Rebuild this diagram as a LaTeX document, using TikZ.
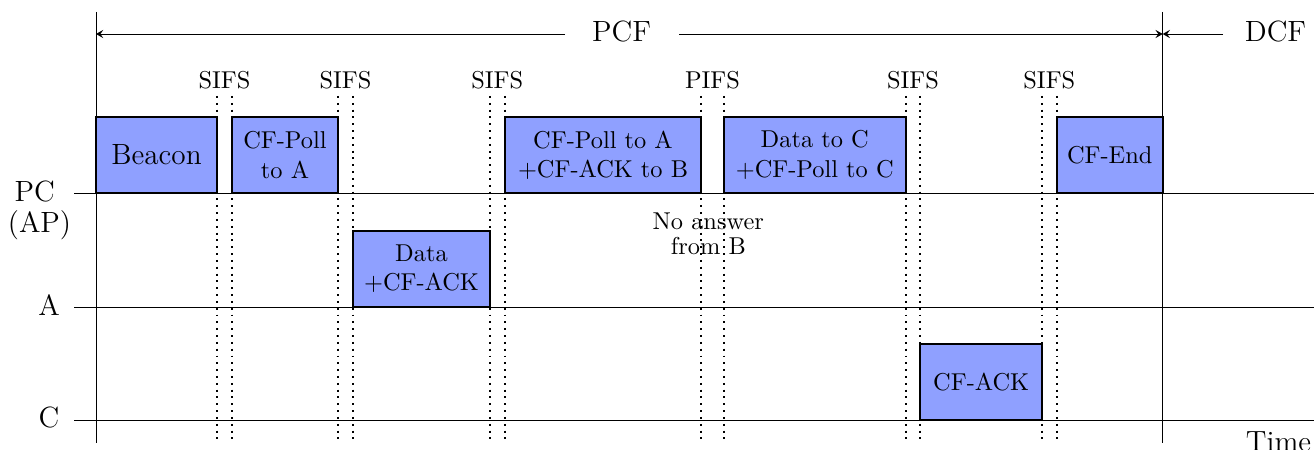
\documentclass[tikz,border=0pt]{standalone}
\usetikzlibrary{calc,arrows.meta}
\definecolor{boxfill}{RGB}{143,160,255}
\begin{document}
\begin{tikzpicture}[x=0.41pt,y=-0.41pt,
  >={Stealth[length=3pt,width=3.4pt,inset=1.2pt]},
  frame/.style={draw=black, thick, fill=boxfill, inner sep=0pt, outer sep=0pt,
                align=center, anchor=south west, minimum height=31.16pt},
  biglbl/.style={font=\large, inner sep=0pt},
  gaplbl/.style={inner sep=0pt},
  ifs/.style={dotted, thick}]
\useasboundingbox (0,0) rectangle (1314,450);

% helper coordinates
\coordinate (dtop) at (0,96);
\coordinate (dbot) at (0,443);
\coordinate (vtop) at (0,12);
\coordinate (vbot) at (0,443);
\coordinate (arr) at (0,34);
\coordinate (lstart) at (74,0);
\coordinate (lend) at (1314,0);
\coordinate (pcy) at (0,193);
\coordinate (ay) at (0,307);
\coordinate (cy) at (0,420);
\coordinate (pcfl) at (565,34);
\coordinate (pcfr) at (679,34);
\coordinate (dcfl) at (1223,34);
\coordinate (vl) at (96,0);
\coordinate (vr) at (1162.7,0);

% station lines
\draw (lstart |- pcy) -- (lend |- pcy);
\draw (lstart |- ay) -- (lend |- ay);
\draw (lstart |- cy) -- (lend |- cy);

% vertical boundaries
\draw (vl |- vtop) -- (vl |- vbot);
\draw (vr |- vtop) -- (vr |- vbot);

% labels
\node[biglbl, align=center] (pc) at (39.5,210.2) {PC\kern4pt\\[-1.5pt](AP)};
\node[biglbl] (a) at (49,305) {A};
\node[biglbl] (c) at (49,418) {C};

% PCF / DCF
\node[biglbl] (pcf) at (621.5,32) {PCF};
\node[biglbl] (dcf) at (1275.5,32) {DCF};
\draw[->] (pcfl) -- (vl |- arr);
\draw[->] (pcfr) -- (vr |- arr);
\draw[->] (dcfl) -- (vr |- arr);

% interframe spaces (drawn first so frame borders cover them)
\path (217,0) coordinate (g1a) (232,0) coordinate (g1b)
      (338,0) coordinate (g2a) (353,0) coordinate (g2b)
      (490,0) coordinate (g3a) (504.7,0) coordinate (g3b)
      (701.3,0) coordinate (g4a) (723.7,0) coordinate (g4b)
      (905.7,0) coordinate (g5a) (920.3,0) coordinate (g5b)
      (1042,0) coordinate (g6a) (1056.7,0) coordinate (g6b);
\foreach \g in {g1a,g1b,g2a,g2b,g3a,g3b,g4a,g4b,g5a,g5b,g6a,g6b}
  \draw[ifs] (\g |- dtop) -- (\g |- dbot);

% frames
\node[frame, minimum width=49.61pt, font=\large] (beacon) at (96,193) {Beacon};
\node[frame, minimum width=43.46pt] (polla) at (232,193) {CF-Poll\\to A};
\node[frame, minimum width=56.17pt] (dataack) at (353,307) {Data\\+CF-ACK};
\node[frame, minimum width=80.61pt] (pollab) at (504.7,193) {CF-Poll to A\\+CF-ACK to B};
\node[frame, minimum width=74.62pt] (datac) at (723.7,193) {Data to C\\+CF-Poll to C};
\node[frame, minimum width=49.90pt, minimum height=31.04pt] (cfack) at (920.3,420) {CF-ACK};
\node[frame, minimum width=43.46pt] (cfend) at (1056.7,193) {CF-End};

\node[gaplbl] (s1) at (224.5,80) {SIFS};
\node[gaplbl] (s2) at (345.5,80) {SIFS};
\node[gaplbl] (s3) at (497.3,80) {SIFS};
\node[gaplbl] (p1) at (712.5,80) {PIFS};
\node[gaplbl] (s4) at (913,80) {SIFS};
\node[gaplbl] (s5) at (1049.3,80) {SIFS};

\node[gaplbl, align=center] (noans) at (708.3,234) {No answer\\[-1.9pt]from B};

\node[biglbl] (time) at (1278.5,442) {Time};
\end{tikzpicture}
\end{document}
